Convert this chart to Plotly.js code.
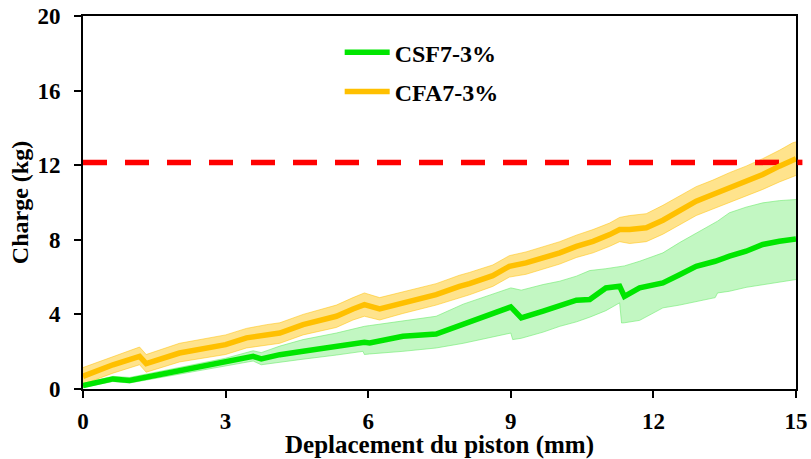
<!DOCTYPE html>
<html>
<head>
<meta charset="utf-8">
<script src="https://cdn.plot.ly/plotly-3.0.1.min.js"></script>
<style>html,body{margin:0;padding:0;background:#fff;}#chart{width:811px;height:459px;}</style>
</head>
<body>
<div id="chart"></div>
<script>
// CSF7-3% (green)
var csfX    = [0, 0.3, 0.63, 0.98, 1.33, 2.03, 3.0, 3.58, 3.75, 4.14, 4.63, 5.33, 5.89, 5.92, 6.03, 6.73, 7.43, 8.0, 8.62, 9.0, 9.04, 9.22, 9.68, 10.03, 10.38, 10.66, 11.0, 11.29, 11.33, 11.39, 11.71, 12.2, 12.55, 12.9, 13.3, 13.35, 13.6, 13.95, 14.3, 14.65, 15.0];
var csfMean = [0.18, 0.35, 0.54, 0.46, 0.64, 0.98, 1.43, 1.75, 1.61, 1.84, 2.02, 2.29, 2.5, 2.5, 2.47, 2.83, 2.95, 3.45, 4.04, 4.4, 4.3, 3.81, 4.17, 4.43, 4.76, 4.8, 5.42, 5.51, 5.3, 4.97, 5.42, 5.69, 6.13, 6.58, 6.85, 6.9, 7.12, 7.39, 7.75, 7.92, 8.05];
var csfLow  = [0.08, 0.22, 0.4, 0.32, 0.48, 0.8, 1.22, 1.5, 1.3, 1.45, 1.6, 1.82, 2.02, 1.85, 1.88, 2.02, 2.2, 2.45, 2.8, 3.0, 2.65, 2.72, 3.05, 3.36, 3.6, 3.85, 4.2, 4.62, 3.54, 3.55, 3.68, 4.35, 4.5, 4.7, 4.9, 5.15, 5.24, 5.45, 5.6, 5.75, 5.87];
var csfHigh = [0.3, 0.48, 0.68, 0.62, 0.8, 1.18, 1.65, 2.05, 1.95, 2.3, 2.65, 3.0, 3.36, 3.36, 3.4, 3.63, 3.9, 4.55, 5.1, 5.42, 5.4, 5.3, 5.6, 5.78, 6.05, 6.35, 6.45, 6.58, 6.58, 6.6, 6.85, 7.3, 7.85, 8.37, 8.95, 9.0, 9.45, 9.75, 9.98, 10.1, 10.16];

// CFA7-3% (orange)
var cfaX    = [0, 0.63, 1.19, 1.33, 2.03, 3.0, 3.44, 3.86, 4.14, 4.63, 5.33, 5.68, 5.92, 6.24, 6.73, 7.43, 7.92, 8.13, 8.62, 8.97, 9.32, 10.03, 10.38, 10.73, 11.08, 11.29, 11.5, 11.85, 12.2, 12.9, 13.25, 13.6, 13.95, 14.3, 14.65, 14.93, 15.0];
var cfaMean = [0.68, 1.3, 1.75, 1.36, 1.93, 2.38, 2.74, 2.9, 3.0, 3.45, 3.9, 4.29, 4.52, 4.29, 4.62, 5.06, 5.5, 5.65, 6.08, 6.58, 6.76, 7.3, 7.65, 7.92, 8.28, 8.55, 8.55, 8.64, 9.05, 10.07, 10.43, 10.79, 11.14, 11.5, 11.95, 12.3, 12.35];
var cfaLow  = [0.25, 0.85, 1.3, 0.9, 1.45, 1.85, 2.2, 2.35, 2.45, 2.9, 3.3, 3.7, 3.9, 3.7, 4.05, 4.5, 4.9, 5.05, 5.5, 6.0, 6.15, 6.7, 7.05, 7.3, 7.65, 7.9, 7.8, 7.9, 8.3, 9.3, 9.65, 10.0, 10.35, 10.7, 11.1, 11.4, 11.45];
var cfaHigh = [1.15, 1.75, 2.25, 1.85, 2.45, 2.9, 3.25, 3.45, 3.55, 4.0, 4.5, 4.9, 5.15, 4.9, 5.2, 5.65, 6.1, 6.25, 6.65, 7.15, 7.35, 7.9, 8.25, 8.55, 8.9, 9.2, 9.3, 9.4, 9.85, 10.85, 11.2, 11.6, 11.95, 12.35, 12.8, 13.2, 13.25];

// Reference level (red dashed)
var limitX = [0, 15];
var limitY = [12.15, 12.15];

var seriesNames = ['CSF7-3%', 'CFA7-3%'];
var xTicks = [0, 3, 6, 9, 12, 15];
var yTicks = [0, 4, 8, 12, 16, 20];

var FONT = 'Liberation Serif, Times New Roman, serif';

var traces = [
  {x: csfX, y: csfLow, mode: 'lines', line: {width: 1, color: 'rgba(110,235,110,0.6)'}, showlegend: false, hoverinfo: 'skip'},
  {x: csfX, y: csfHigh, mode: 'lines', fill: 'tonexty', fillcolor: 'rgba(110,235,110,0.42)', line: {width: 1, color: 'rgba(110,235,110,0.6)'}, showlegend: false, hoverinfo: 'skip'},
  {x: cfaX, y: cfaLow, mode: 'lines', line: {width: 1, color: 'rgba(255,192,0,0.5)'}, showlegend: false, hoverinfo: 'skip'},
  {x: cfaX, y: cfaHigh, mode: 'lines', fill: 'tonexty', fillcolor: 'rgba(255,192,0,0.45)', line: {width: 1, color: 'rgba(255,192,0,0.5)'}, showlegend: false, hoverinfo: 'skip'},
  {x: limitX, y: limitY, mode: 'lines', line: {color: '#ff0000', width: 5.5, dash: '24px,18px'}, showlegend: false, hoverinfo: 'skip'},
  {x: csfX, y: csfMean, mode: 'lines', name: seriesNames[0], legendgroup: 'g1', line: {color: '#00e600', width: 5.5}},
  {x: cfaX, y: cfaMean, mode: 'lines', name: seriesNames[1], legendgroup: 'g2', line: {color: '#ffc000', width: 5.5}}
];

var axisCommon = {
  showline: true, linecolor: '#000', linewidth: 2, mirror: true,
  ticks: 'outside', ticklen: 7, tickwidth: 2, tickcolor: '#000',
  showgrid: false, zeroline: false,
  tickfont: {family: FONT, size: 23, color: '#000', weight: 'bold'}
};

var layout = {
  width: 811, height: 459,
  margin: {l: 83, r: 15, t: 16, b: 70},
  paper_bgcolor: '#fff', plot_bgcolor: '#fff',
  showlegend: true,
  legend: {
    x: 0.36, y: 0.962, xanchor: 'left', yanchor: 'top',
    traceorder: 'grouped', tracegroupgap: 5,
    itemwidth: 45,
    bgcolor: 'rgba(0,0,0,0)', borderwidth: 0,
    font: {family: FONT, size: 24, color: '#000', weight: 'bold'}
  },
  xaxis: Object.assign({}, axisCommon, {
    range: [0, 15], tickvals: xTicks, ticktext: xTicks.map(String),
    ticklabelstandoff: 3,
    title: {text: 'Deplacement du piston (mm)', font: {family: FONT, size: 25, color: '#000', weight: 'bold'}, standoff: 0}
  }),
  yaxis: Object.assign({}, axisCommon, {
    range: [0, 20], tickvals: yTicks, ticktext: yTicks.map(String),
    ticklabelstandoff: 9,
    title: {text: 'Charge (kg)', font: {family: FONT, size: 24, color: '#000', weight: 'bold'}, standoff: 2}
  }),
  shapes: [
    {type: 'line', xref: 'paper', yref: 'y', x0: 1.002, x1: 1.009, y0: limitY[0], y1: limitY[1], line: {color: '#ff0000', width: 5.5}}
  ]
};

Plotly.newPlot('chart', traces, layout, {displayModeBar: false, staticPlot: true});
</script>
</body>
</html>
